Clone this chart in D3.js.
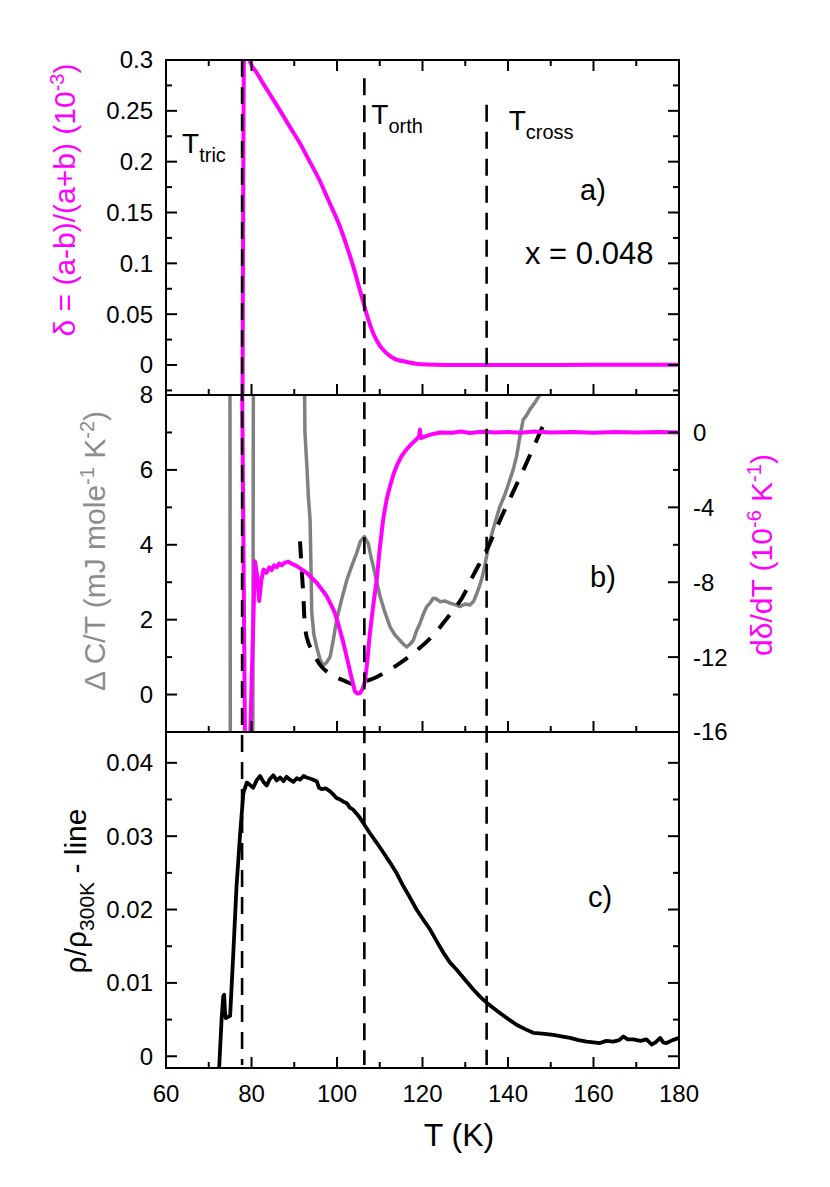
<!DOCTYPE html>
<html><head><meta charset="utf-8">
<script src="https://cdn.jsdelivr.net/npm/d3@7"></script>
<style>
html,body{margin:0;padding:0;background:#fff;}
text{font-family:"Liberation Sans",Arial,Helvetica,sans-serif;}
</style>
</head><body>
<svg id="chart" width="830" height="1187"></svg>
<script>
// ---------------- DATA ----------------
// Panel a: delta = (a-b)/(a+b) (10^-3) vs T (K)
const deltaT = [77.9,78.3,79.2,79.7,81,83,85.1,87,89,91.35,93.5,96,98,100.7,102.2,103.8,105,106.2,107.3,108.5,110,111.6,113.5,116.3,118.5,121,125,140,160,180];
const deltaV = [-0.04,0.32,0.32,0.298,0.289,0.275,0.261,0.248,0.234,0.218,0.201,0.181,0.162,0.136,0.118,0.097,0.079,0.061,0.045,0.031,0.019,0.0115,0.006,0.003,0.0012,0.0004,0,0,0.0002,0.0003];

// Panel b: d(delta)/dT (10^-6 K^-1), right axis
const dDeltaT = [77.8,78.5,79.6,80.8,81.3,81.8,82.3,82.8,83.5,84.2,84.7,85.3,85.9,86.5,87.1,87.8,88.6,89.3,90.6,92.0,92.9,94,95.25,96.5,97.6,98.6,99.5,100.5,101.5,102.6,103.4,104.2,104.8,105.4,106,106.55,107.1,107.7,108.5,109.3,110,110.8,111.6,112.4,113.2,113.95,115,116.3,117.5,118.6,119.2,119.4,119.6,121,122.5,124.1,127,129,131,134,137,140,143,146,150,155,160,165,170,175,180];
const dDeltaV = [3,-17,-17,-6.88,-7.6,-9.0,-7.9,-7.32,-7.5,-7.2,-7.35,-7.1,-7.2,-7.0,-7.1,-6.95,-6.9,-7.0,-7.14,-7.35,-7.5,-7.75,-8.03,-8.4,-8.75,-9.2,-9.64,-10.4,-11.24,-12.31,-13.1,-13.84,-13.95,-13.92,-13.7,-13.3,-12.2,-10.71,-9.2,-7.86,-6.2,-4.64,-3.6,-2.86,-2.25,-1.79,-1.3,-0.89,-0.6,-0.36,-0.2,0.15,-0.3,-0.18,-0.08,0.0,-0.02,0.05,-0.03,0.04,0,0.03,-0.02,0.05,0,0.02,-0.02,0.03,0,0.02,0];

// Panel b: Delta C/T (mJ mole^-1 K^-2), left axis
const heatT = [74.95,75.05,80.3,80.45,92.3,92.5,93.0,93.3,93.7,93.9,94.1,94.6,95.25,96,96.8,97.5,98.4,99.2,99.9,101,102.3,103.5,104.6,105.5,106.4,107.3,107.9,108.5,109.3,110.1,111.2,112.4,113.5,114.7,115.5,116.3,117.1,117.85,118.6,119.4,120.2,121.0,121.8,122.5,123.3,124.1,125.2,126.4,127.6,128.8,130,131.1,132,132.7,133.5,134.2,135,135.8,137,138.1,139.3,140.45,141.2,142.0,142.8,143.55,144.3,145.1,146.3,147.5,148.5];
const heatV = [9.5,-2,-2,9.5,9.5,7.0,6.0,5.29,4.67,3.5,2.17,1.6,1.27,0.95,0.78,0.85,1.01,1.5,1.99,2.5,3.06,3.45,3.78,4.1,4.22,4.04,3.7,3.42,3.0,2.61,2.2,1.81,1.6,1.45,1.35,1.27,1.35,1.45,1.7,1.90,2.15,2.35,2.45,2.57,2.55,2.48,2.5,2.44,2.4,2.35,2.42,2.39,2.5,2.70,2.95,3.24,3.7,4.13,4.6,5.02,5.35,5.74,6.0,6.36,6.9,7.34,7.45,7.61,7.8,8.01,8.4];

// Panel b: background fit (dashed), left axis
const fitT = [91.35,92.05,92.9,94.45,96.5,98.8,101.9,103.8,106.15,109.3,113.95,118.25,122.15,125.7,129.2,131.9,135,138.9,143.6,148.3];
const fitV = [4.09,2.79,1.54,1.10,0.73,0.52,0.36,0.28,0.34,0.47,0.78,1.14,1.54,2.03,2.57,3.19,3.86,4.85,6.0,7.21];

// Panel c: rho/rho_300K - line
const rhoT = [72.4,73.0,73.4,73.6,73.8,74.0,75.0,75.75,76.5,77.3,78.1,78.9,79.6,80.4,81.2,82.0,82.8,83.55,84.3,85.1,85.9,86.7,87.5,88.2,89.0,89.8,90.6,91.35,92.2,92.9,94.0,95.25,95.8,96.4,97.4,98.4,99.1,99.9,100.7,101.5,102.3,103.0,103.8,105,106.15,107.7,109.3,110.8,112.4,114,115.5,117,118.6,120.2,121.75,123.3,124.9,126.4,128.0,130,131.9,133.5,135.0,136.5,138.1,140,142.0,144,145.9,148,150.6,152.5,154.5,156.5,158.4,160,161.5,163,164.6,166,167.0,168,169.3,171,172.4,173.6,174.5,175.6,176.3,177.1,178.5,180];
const rhoV = [-0.002,0.005,0.0082,0.0084,0.006,0.0052,0.0055,0.0141,0.0232,0.030,0.0359,0.0373,0.0370,0.0366,0.0376,0.0382,0.0374,0.0369,0.0378,0.0383,0.0376,0.0380,0.0375,0.0381,0.0377,0.0374,0.0379,0.0377,0.0382,0.0380,0.0378,0.0375,0.0366,0.0364,0.0365,0.0361,0.0357,0.0352,0.0350,0.0347,0.0345,0.0339,0.0336,0.0328,0.0318,0.0304,0.0291,0.0278,0.0264,0.0249,0.0232,0.0217,0.0200,0.0186,0.0173,0.0157,0.0141,0.0128,0.0118,0.0104,0.0091,0.0081,0.0073,0.0066,0.0059,0.0051,0.0043,0.0037,0.0032,0.0031,0.0029,0.0027,0.0025,0.0022,0.0020,0.0019,0.0018,0.0021,0.0020,0.0022,0.0027,0.0023,0.0023,0.0021,0.0023,0.0016,0.0019,0.0025,0.0019,0.0018,0.0022,0.0025];

// Characteristic temperatures (vertical dashed lines) and the delta value where each starts
const markerNames = ["tric","orth","cross"];
const markerT = [77.8,106.4,135.0];
const markerTop = [0.3,0.282,0.256];

// Tick values / labels
const xMajor = [60,80,100,120,140,160,180];
const xMinor = [70,90,110,130,150,170];
const aMajor = [0,0.05,0.1,0.15,0.2,0.25,0.3];
const aLabels = ["0","0.05","0.1","0.15","0.2","0.25","0.3"];
const aMinor = [-0.025,0.025,0.075,0.125,0.175,0.225,0.275];
const bMajor = [0,2,4,6,8];
const bMinor = [1,3,5,7];
const b2Major = [0,-4,-8,-12,-16];
const b2Minor = [2,-2,-6,-10,-14];
const cMajor = [0,0.01,0.02,0.03,0.04];
const cLabels = ["0","0.01","0.02","0.03","0.04"];
const cMinor = [0.005,0.015,0.025,0.035];

// ---------------- DRAW ----------------
const MAG = "#ff00ff", GRAY = "#808080";
const svg = d3.select("#chart");
const L = 166, R = 679;
const x = d3.scaleLinear().domain([60,180]).range([L,R]);
const yA = d3.scaleLinear().domain([-0.0295,0.3]).range([395,60]);
const yB = d3.scaleLinear().domain([-1,8]).range([732,395]);
const yB2 = d3.scaleLinear().domain([-16,2]).range([732,395]);
const yC = d3.scaleLinear().domain([-0.0016,0.0442]).range([1068,732]);

const defs = svg.append("defs");
function clip(id, y0, y1){
  defs.append("clipPath").attr("id",id).append("rect")
    .attr("x",L).attr("y",y0).attr("width",R-L).attr("height",y1-y0);
}
clip("cA",60,395); clip("cB",395,732); clip("cC",732,1068);

const zip = (a,b)=>a.map((v,i)=>[v,b[i]]);
function path(g, clipId, xs, ys, yS, color, w, dash, curve){
  const line = d3.line().x(d=>x(d[0])).y(d=>yS(d[1])).curve(curve||d3.curveLinear);
  g.append("path").datum(zip(xs,ys)).attr("clip-path",`url(#${clipId})`)
    .attr("d",line).attr("fill","none").attr("stroke",color).attr("stroke-width",w)
    .attr("stroke-linejoin","round").attr("stroke-linecap", dash? "butt":"round")
    .attr("stroke-dasharray",dash||null);
}

const gData = svg.append("g");
// panel a
path(gData,"cA",deltaT,deltaV,yA,MAG,4,null,d3.curveMonotoneX);
// panel b
path(gData,"cB",heatT,heatV,yB,GRAY,3.5);
path(gData,"cB",fitT,fitV,yB,"#000",4,"17,13",d3.curveCatmullRom);
path(gData,"cB",dDeltaT,dDeltaV,yB2,MAG,4);
// panel c
path(gData,"cC",rhoT,rhoV,yC,"#000",3.8);

// vertical dashed lines
markerT.forEach((t,i)=>{
  svg.append("line").attr("x1",x(t)).attr("x2",x(t))
    .attr("y1",yA(markerTop[i])).attr("y2",yC(-0.0012))
    .attr("stroke","#000").attr("stroke-width",2.6).attr("stroke-dasharray","17,10");
});

// frames and ticks
const axisG = svg.append("g").attr("stroke","#000").attr("stroke-width",2);
const MJ = 11, MN = 6;
function frame(y0,y1){
  axisG.append("rect").attr("x",L).attr("y",y0).attr("width",R-L).attr("height",y1-y0).attr("fill","none");
}
frame(60,395); frame(395,732); frame(732,1068);
function hTicks(vals, yPos, len, dir){
  vals.forEach(v=>axisG.append("line").attr("x1",x(v)).attr("x2",x(v)).attr("y1",yPos).attr("y2",yPos+dir*len));
}
function vTicks(vals, yS, xPos, len, dir){
  vals.forEach(v=>axisG.append("line").attr("x1",xPos).attr("x2",xPos+dir*len).attr("y1",yS(v)).attr("y2",yS(v)));
}
// x ticks
hTicks(xMajor,60,MJ,1); hTicks(xMinor,60,MN,1);
hTicks(xMajor,395,MJ,-1); hTicks(xMinor,395,MN,-1);
hTicks(xMajor,732,MJ,-1); hTicks(xMinor,732,MN,-1);
hTicks(xMajor,1068,MJ,-1); hTicks(xMinor,1068,MN,-1);
// y ticks
vTicks(aMajor,yA,L,MJ,1); vTicks(aMinor,yA,L,MN,1);
vTicks(aMajor,yA,R,MJ,-1); vTicks(aMinor,yA,R,MN,-1);
vTicks(bMajor,yB,L,MJ,1); vTicks(bMinor,yB,L,MN,1);
vTicks(b2Major,yB2,R,MJ,-1); vTicks(b2Minor,yB2,R,MN,-1);
vTicks(cMajor,yC,L,MJ,1); vTicks(cMinor,yC,L,MN,1);
vTicks(cMajor,yC,R,MJ,-1); vTicks(cMinor,yC,R,MN,-1);

// tick labels
const TF = 24;
const lab = svg.append("g").attr("font-size",TF).attr("fill","#000");
aMajor.forEach((v,i)=>lab.append("text").attr("x",L-13).attr("y",yA(v)).attr("dy","0.35em").attr("text-anchor","end").text(aLabels[i]));
bMajor.forEach(v=>lab.append("text").attr("x",L-13).attr("y",yB(v)).attr("dy","0.35em").attr("text-anchor","end").text(String(v)));
b2Major.forEach(v=>lab.append("text").attr("x",R+14).attr("y",yB2(v)).attr("dy","0.35em").attr("text-anchor","start").text(String(v)));
cMajor.forEach((v,i)=>lab.append("text").attr("x",L-13).attr("y",yC(v)).attr("dy","0.35em").attr("text-anchor","end").text(cLabels[i]));
xMajor.forEach(v=>lab.append("text").attr("x",x(v)).attr("y",1102).attr("text-anchor","middle").text(String(v)));

// axis titles
const TT = 30;
function rotTitle(cx, cy, color, parts){
  const t = svg.append("text").attr("transform",`translate(${cx},${cy}) rotate(-90)`)
    .attr("text-anchor","middle").attr("font-size",TT).attr("fill",color);
  parts.forEach(p=>{
    const s = t.append("tspan").text(p[0]);
    if(p[1]==="sup") s.attr("font-size",20).attr("dy",-11);
    else if(p[1]==="sub") s.attr("font-size",21).attr("dy",8);
    else if(p[1]==="back") s.attr("dy",p[2]);
  });
}
rotTitle(75,200,MAG,[["δ = (a-b)/(a+b) (10"],["-3","sup"],[")","back",11]]);
rotTitle(105,551,"#8c8c8c",[["Δ C/T (mJ mole"],["-1","sup"],[" K","back",11],["-2","sup"],[")","back",11]]);
rotTitle(86,891,"#000",[["ρ/ρ"],["300K","sub"],[" - line","back",-8]]);
rotTitle(772,555,MAG,[["dδ/dT  (10"],["-6","sup"],[" K","back",11],["-1","sup"],[")","back",11]]);

svg.append("text").attr("x",459).attr("y",1146).attr("text-anchor","middle").attr("font-size",32).text("T (K)");

// annotations
function tLabel(xp, yp, sub){
  const t = svg.append("text").attr("x",xp).attr("y",yp).attr("font-size",28).attr("fill","#000");
  t.append("tspan").text("T");
  t.append("tspan").attr("font-size",20).attr("dy",9).text(sub);
}
tLabel(x(markerT[0])-60,153,markerNames[0]);
tLabel(x(markerT[1])+7,124,markerNames[1]);
tLabel(x(markerT[2])+22,130,markerNames[2]);

svg.append("text").attr("x",580).attr("y",200).attr("font-size",29).text("a)");
svg.append("text").attr("x",525).attr("y",264).attr("font-size",31).text("x = 0.048");
svg.append("text").attr("x",590).attr("y",587).attr("font-size",29).text("b)");
svg.append("text").attr("x",588).attr("y",907).attr("font-size",29).text("c)");
</script>
</body></html>
